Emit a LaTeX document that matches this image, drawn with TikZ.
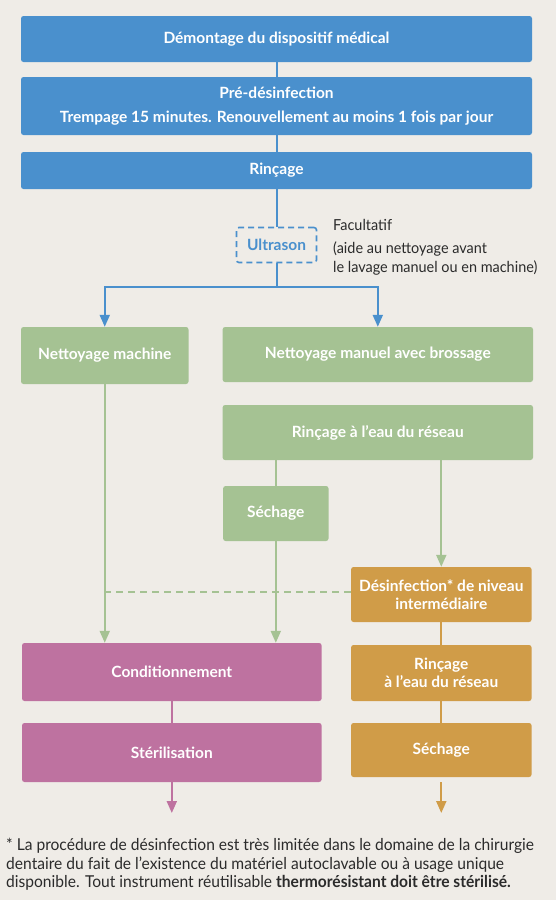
\documentclass[tikz,border=0pt]{standalone}
\usepackage{fontspec}
\setmainfont{Lato}
\newfontfamily\narrowfont{Lato}[FakeStretch=0.95]
\usetikzlibrary{arrows.meta}
\definecolor{bg}{HTML}{EFECE7}
\definecolor{cblue}{HTML}{4A90CD}
\definecolor{cgreen}{HTML}{A5C293}
\definecolor{cpink}{HTML}{BE72A0}
\definecolor{corange}{HTML}{D09C48}
\definecolor{ctext}{HTML}{2B2B2B}
\begin{document}
\begin{tikzpicture}[x=1pt,y=-1pt,
  box/.style={rectangle, rounded corners=2.5pt, inner sep=0pt, text=white,
    font=\bfseries\fontsize{15.5}{18.5}\selectfont, align=center},
  bluebox/.style={box, fill=cblue},
  greenbox/.style={box, fill=cgreen},
  pinkbox/.style={box, fill=cpink},
  orangebox/.style={box, fill=corange},
  conn/.style={line width=2pt},
  arr/.style={conn, -{Triangle[width=10pt,length=12pt]}}]
\fill[bg] (0,0) rectangle (556,900);
\useasboundingbox (0,0) rectangle (556,900);

% blue
\node[bluebox, minimum width=511pt, minimum height=46pt] (b1) at (276.5,39) {Démontage du dispositif médical};
\node[bluebox, minimum width=511pt, minimum height=58pt] (b2) at (276.5,106) {Pré-désinfection\\[5pt]Trempage 15 minutes. Renouvellement au moins 1 fois par jour};
\node[bluebox, minimum width=511pt, minimum height=37pt] (b3) at (276.5,170.5) {Rinçage};
\node[box, draw=cblue, dash pattern=on 6pt off 4pt, line width=1.6pt, text=cblue,
  minimum width=80pt, minimum height=35pt] (us) at (276.5,245) {Ultrason};
\node[anchor=north west, inner sep=0pt, align=left, text=ctext,
  font=\narrowfont\fontsize{15.2}{19}\selectfont] (fac) at (333,219)
  {Facultatif\\[4pt](aide au nettoyage avant\\le lavage manuel ou en machine)};

% green
\node[greenbox, minimum width=167.5pt, minimum height=57pt] (nm) at (104.75,355.5) {Nettoyage machine};
\node[greenbox, minimum width=310.4pt, minimum height=55pt] (nman) at (377.8,354.5) {Nettoyage manuel avec brossage};
\node[greenbox, minimum width=310.4pt, minimum height=55pt] (rin) at (377.8,432.5) {Rinçage à l’eau du réseau};
\node[greenbox, minimum width=105.4pt, minimum height=55pt] (sech) at (275.8,513.5) {Séchage};

% orange
\node[orangebox, minimum width=180.5pt, minimum height=55pt] (des) at (441.3,594.5) {Désinfection* de niveau\\intermédiaire};
\node[orangebox, minimum width=180.5pt, minimum height=56pt] (rin2) at (441.3,673) {Rinçage\\à l’eau du réseau};
\node[orangebox, minimum width=180.5pt, minimum height=54pt] (sech2) at (441.3,750) {Séchage};

% pink
\node[pinkbox, minimum width=299.6pt, minimum height=58pt] (cond) at (171.8,672) {Conditionnement};
\node[pinkbox, minimum width=299.6pt, minimum height=59pt] (ster) at (171.8,752.5) {Stérilisation};

% footnote
\node[anchor=north west, inner sep=0pt, align=left, text=ctext,
  font=\narrowfont\fontsize{16.4}{18.5}\selectfont] (foot) at (6,838)
  {* La procédure de désinfection est très limitée dans le domaine de la chirurgie\\
   dentaire du fait de l’existence du matériel autoclavable ou à usage unique\\
   disponible. Tout instrument réutilisable \textbf{thermorésistant doit être stérilisé.}};

% connectors blue
\draw[conn, cblue] (b1) -- (b2);
\draw[conn, cblue] (b2) -- (b3);
\draw[conn, cblue] (b3) -- (us);
\coordinate (split) at (276.5,287);
\draw[conn, cblue] (us.south) -- (split);
\draw[arr, cblue] (split) -| (nm.north);
\draw[arr, cblue] (split) -| (nman.north);

% connectors green
\draw[arr, cgreen] (nm.south) -- (nm.south |- cond.north);
\draw[conn, cgreen] (rin.south -| sech.north) -- (sech.north);
\draw[arr, cgreen] (sech.south) -- (sech.south |- cond.north);
\draw[arr, cgreen] (rin.south -| des.north) -- (des.north);
\draw[conn, cgreen, dash pattern=on 7pt off 5pt] ([yshift=2.5pt]des.west) -- ([yshift=2.5pt]des.west -| nm.south);

% orange
\draw[conn, corange] (des) -- (rin2);
\draw[conn, corange] (rin2) -- (sech2);
\coordinate (e2) at (441.3,813);
\draw[arr, corange] ([yshift=-5pt]sech2.south) -- (e2);

% pink
\draw[conn, cpink] (cond) -- (ster);
\coordinate (e1) at (171.8,813);
\draw[arr, cpink] (ster.south) -- (e1);
\end{tikzpicture}
\end{document}
